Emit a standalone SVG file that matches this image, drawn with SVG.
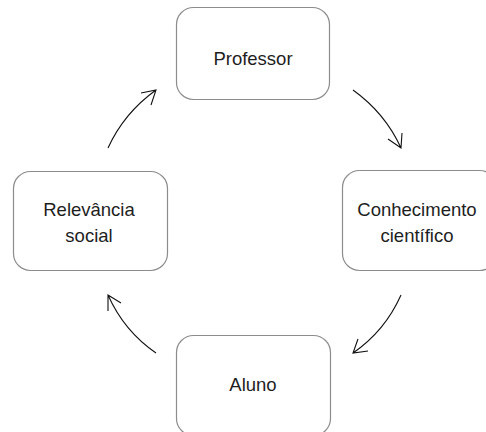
<svg xmlns="http://www.w3.org/2000/svg" width="486" height="432" viewBox="0 0 486 432">
<style>
.box{fill:#fff;stroke:#8c8c8c;stroke-width:1.2}
.t{font-family:"Liberation Sans",Arial,sans-serif;font-size:18.5px;fill:#1e1e1e;text-anchor:middle}
.c{fill:none;stroke:#111;stroke-width:1.1}
</style>
<rect width="486" height="432" fill="#fff"/>
<g id="professor"><rect class="box" x="176.5" y="7.5" width="153" height="92" rx="17"/><text class="t" x="253" y="65">Professor</text></g>
<g id="conhecimento"><rect class="box" x="342.5" y="170.5" width="154" height="100" rx="17"/><text class="t" x="417" y="216">Conhecimento</text><text class="t" x="417" y="242">científico</text></g>
<g id="aluno"><rect class="box" x="176.5" y="335.5" width="154" height="100" rx="17"/><text class="t" x="253" y="391">Aluno</text></g>
<g id="relevancia"><rect class="box" x="13.5" y="171.5" width="154" height="99" rx="17"/><text class="t" x="89" y="216">Relevância</text><text class="t" x="89" y="242">social</text></g>
<g id="connectors">
<path class="c" d="M353,90 Q385,113 401,148 M388,139 L401,148 L402,133"/>
<path class="c" d="M401,295 Q385,331 353,353 M368,351 L353,353 L358,339"/>
<path class="c" d="M156,353 Q124,331 108,295 M108,311 L108,295 L121,303"/>
<path class="c" d="M108,148 Q124,113 156,90 M141,93 L156,90 L151,105"/>
</g>
</svg>
